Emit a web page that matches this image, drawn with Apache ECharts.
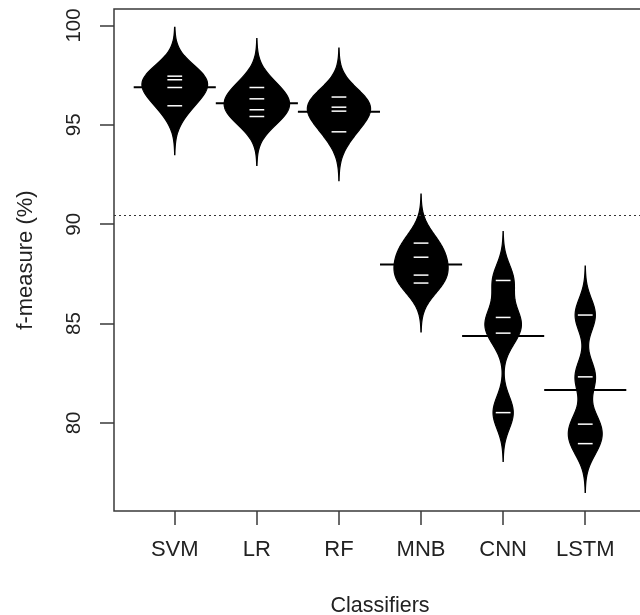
<!DOCTYPE html>
<html>
<head>
<meta charset="utf-8">
<script src="https://cdn.jsdelivr.net/npm/echarts@6/dist/echarts.min.js"></script>
<style>
html,body{margin:0;padding:0;background:#fff;}
#chart{width:640px;height:615px;}
</style>
</head>
<body>
<div id="chart"></div>
<script>
// ---- data ----
const categories = ['SVM', 'LR', 'RF', 'MNB', 'CNN', 'LSTM'];
const svm  = [97.45, 97.27, 96.88, 95.96];
const lr   = [96.88, 96.31, 95.76, 95.42];
const rf   = [96.40, 95.89, 95.69, 94.65];
const mnb  = [89.05, 88.34, 87.44, 87.04];
const cnn  = [87.17, 85.31, 84.52, 80.52];
const lstm = [85.43, 82.32, 79.94, 78.96];
const yTicks = [80, 85, 90, 95, 100];
const xTicks = [1, 2, 3, 4, 5, 6];
const bandwidth = 0.82;   // kernel bandwidth of the bean densities
const cutBw = 3;          // densities extend 3 bandwidths past the data

const groups = [svm, lr, rf, mnb, cnn, lstm];

// ---- bean densities (gaussian KDE of each group) ----
function mean(a){ return a.reduce((s,v)=>s+v,0)/a.length; }
function kde(vals){
  const lo = Math.min(...vals) - cutBw*bandwidth;
  const hi = Math.max(...vals) + cutBw*bandwidth;
  const n = 256, out = [];
  const norm = 1/(vals.length*bandwidth*Math.sqrt(2*Math.PI));
  for (let k=0;k<n;k++){
    const y = lo + (hi-lo)*k/(n-1);
    let d = 0;
    for (const v of vals){ const z=(y-v)/bandwidth; d += Math.exp(-0.5*z*z); }
    out.push([y, d*norm]);
  }
  return out;
}
const densities = groups.map(kde);
const dMax = Math.max(...densities.map(ds => Math.max(...ds.map(p=>p[1]))));
const maxHalfWidth = 0.4;
const groupMeans = groups.map(mean);
const overallMean = mean([].concat(...groups));

const chart = echarts.init(document.getElementById('chart'), null, {renderer:'canvas'});
const FONT = 'Liberation Sans, Arial, sans-serif';
const TXT = '#222';

chart.setOption({
  animation: false,
  backgroundColor: '#fff',
  grid: {
    left: 114, top: 9, width: 532, height: 502,
    outerBoundsMode: 'none', containLabel: false,
    show: true, borderColor: '#3a3a3a', borderWidth: 1.5, backgroundColor: 'transparent'
  },
  xAxis: {
    type: 'value', min: 0.26, max: 6.74,
    splitLine: {show:false},
    axisLine: {show:false},
    axisTick: {show:true, length:14, customValues: xTicks, lineStyle:{color:'#3a3a3a', width:1.5}},
    axisLabel: {customValues: xTicks, margin: 28, fontSize: 22, color: TXT, fontFamily: FONT,
      formatter: v => categories[Math.round(v)-1] || ''},
    name: 'Classifiers', nameLocation: 'middle', nameGap: 84,
    nameTextStyle: {fontSize: 21.5, color: TXT, fontFamily: FONT}
  },
  yAxis: {
    type: 'value', min: 75.57, max: 100.83,
    splitLine: {show:false},
    axisLine: {show:false},
    axisTick: {show:true, length:14, customValues: yTicks, lineStyle:{color:'#3a3a3a', width:1.5}},
    axisLabel: {customValues: yTicks, rotate: 90, margin: 29, fontSize: 20.5, color: TXT, fontFamily: FONT},
    name: 'f-measure (%)', nameLocation: 'middle', nameGap: 77,
    nameTextStyle: {fontSize: 22, color: TXT, fontFamily: FONT}
  },
  series: [
    {
      type: 'custom',
      coordinateSystem: 'cartesian2d',
      data: groups.map((g,i)=>[i+1, groupMeans[i]]),
      renderItem: function(params, api){
        const c = api.value(0);
        const i = c - 1;
        const dens = densities[i];
        const pts = [];
        for (const [y,d] of dens) pts.push(api.coord([c - maxHalfWidth*d/dMax, y]));
        for (let k=dens.length-1;k>=0;k--){ const [y,d]=dens[k]; pts.push(api.coord([c + maxHalfWidth*d/dMax, y])); }
        const children = [{
          type:'polygon', shape:{points:pts},
          style:{fill:'#000', stroke:'#000', lineWidth:1.2}
        }];
        const m = groupMeans[i];
        const a = api.coord([c-0.5, m]), b = api.coord([c+0.5, m]);
        children.push({type:'line', shape:{x1:a[0],y1:a[1],x2:b[0],y2:b[1]}, style:{stroke:'#000', lineWidth:2}});
        for (const v of groups[i]){
          const p = api.coord([c-0.09, v]), q = api.coord([c+0.09, v]);
          children.push({type:'line', shape:{x1:p[0],y1:p[1],x2:q[0],y2:q[1]}, style:{stroke:'#fff', lineWidth:1.5}});
        }
        return {type:'group', children};
      },
      z: 3
    },
    {
      type: 'line', data: [], silent: true,
      markLine: {
        silent: true, symbol: ['none','none'], label:{show:false},
        lineStyle: {type:[2,3], color:'#333', width:1.2},
        data: [{yAxis: overallMean}]
      },
      z: 2
    }
  ]
});
</script>
</body>
</html>
